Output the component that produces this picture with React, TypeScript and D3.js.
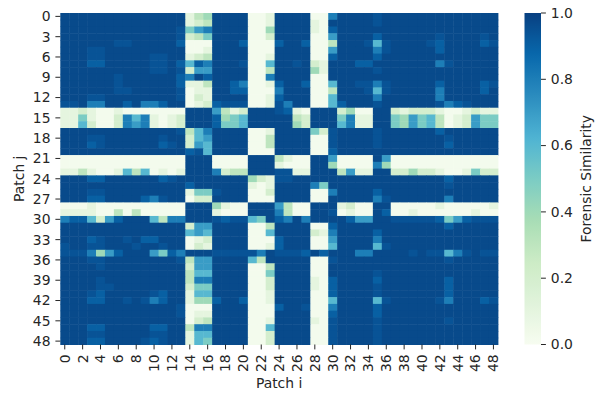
import React from "react";
import * as d3 from "d3";

// Heatmap rows (Patch j = 0..48), one character per column (Patch i = 0..48).
// Characters encode the similarity level (see LEVEL).
const ROWS_RAW: string[] = [
  "BBBBBBBBBBBBBB 134 BBBB 001 BBBB 008 BBBB AB BBBBBBBBBBBB",
  "BBBBBBBBBBBBBB 123 BBBB 001 BBBB 10B BBBB AB BBBBBBBBBBBB",
  "BBBBBBBBBBBBBA 578 BBBB 004 BBBB 109 BBBB BB BBBBBBBBBBBB",
  "BBBBBBBBBBBBBA 235 BBBB 002 BBBB 007 BBBB 9B BBBBBABBBBAB",
  "BBBBBBAABBBBB9 000 BBB9 000 9BB9 003 BBBA 6A BBBBA9BBBB9A",
  "BBBAABBBBBBBBB 001 BBBB 000 BBBB 007 BBBB 8A BBBBB9BBBBBB",
  "BBBAABBBBBAABB 123 BBBB 001 BBBB 009 BBBB 9B BBBBBBBBBBBB",
  "BBB99BBBBBAAB9 698 BBBA 006 BBAB 21B BB99 BB BBBBB8ABBBBB",
  "BBBBBBBBBBAABA 277 BBBB 003 BBBB 41B BBBB AB BBBBBBBBBBBB",
  "BBBBBBABBBBBB9 8B9 BBBB 008 BBBB 00B BBBB BB BBBBBBBBBBBB",
  "BBBBBBABBBBBB9 113 BB98 001 9BB9 006 BBAA 8A BBBBB9BBBB9A",
  "BBBBBBAABBBBBA 011 BB99 000 8BBB 003 BBBA 6A BBBBB8BBBB9B",
  "BBBAABBBBBBBBA 021 BBBB 001 9BBB 006 BBBB 8B BBBBB8BBBBBB",
  "AAB88BB9B889BB 012 9AAA 001 A8BB 006 9BBB AB BBBBBA89ABBB",
  "11210010000000 BBB 7312 BBB A910 BBB 2400 BB 212221001211",
  "11510028681012 BBB 9456 BBB BB32 BBB 5811 BB 547563012755",
  "11620028781012 BBB 9556 BBB BB42 BBB 6811 BB 547563012755",
  "BBBBBBBBBBBBBA 368 BBBB 001 BBBB 52A BBBB AB BBBBB9BBBBBB",
  "BBBAABBBBBBABB 267 BBBB 003 BBBB 00A BBBB AB BBBBBBABBBBB",
  "BBB9ABBBBBB9AB 276 BBBB 003 BBBB 00A BBBB AB BBBBBB9BBBBB",
  "BBBBBBBBBBBBBB 9A6 BBBB 000 BBBB 009 BBBB BB BBBBBBBBBBBB",
  "00000000000000 BBB 0000 BBB 3100 BB7 0000 B7 000000000000",
  "00000000000000 BBB 0000 BBB 1000 BB4 0000 84 000000000000",
  "11310016360101 BBB 8233 BBB AA11 BBB 3711 BB 224221001522",
  "BBB99BBBBBB9AB BBB BBBB 421 AABB BBB BBBB BB BBBBBB9BBBBB",
  "BBBBBBBBBBBBBB 9BB BBBB 101 BBBB 85B BBBB BB BBBBBBABBBBB",
  "BBBAABBBBBBBBB 155 ABBB 002 BBBB 008 BBBB 9B BBBBBBBBBBBB",
  "BBB99BBBB98ABB 022 BBBB 000 BBBB 00B BBBB 8A BBBBBB8BBBBB",
  "00010000000000 BBB 4100 BBB 7300 BBB 1200 BB 000001000001",
  "11110030300000 BBB 1000 BBB 8300 BBA 0100 B9 001000000100",
  "8996279BBB6388 BBB A9AA 65B 98B8 BBB B977 BB AAAAA9579AAA",
  "BBBBBBBBBBBBBB 277 BBBB 003 BBBB 009 BBBB BB BBBBBB9BBBBB",
  "BBBBBBBBBBBBBB 676 BBBB 006 BBBB 218 BBBB 9B BBBBBBBBBBBB",
  "BBB9ABBAB99BBB 012 BBBB 000 9BBB 007 BBBB 8B BBBBBBBBBBBB",
  "ABBAABBBABBABB 021 BBBB 001 9BBB 006 BBBB 6A BBBBBBBBBBBB",
  "AAA8479BBB7598 BBB AAAA A8B AAA9 B9B BB88 BB BBABAA68ABAA",
  "BBBAABBBBBBBBA 377 BBBB 63B BBBB 00A BBBB BB BBBBBBABBBBB",
  "BBBBABBBBBBBBB 277 BBBB 003 BBBB 00B BBBB BB BBBBBBBBBBBB",
  "BBBBBBBBBBBBBB 366 BBBB 005 BBBB 00B BBBB AB BBBBBBBBBBBB",
  "BBBBABBBBBBBBB 388 BBBB 002 BBBB 109 BBBB 9B BBBBBB9BBBBB",
  "BBBBAABBBBBBBB 255 BBBB 002 BBBB 109 BBBB AB BBBBBB9BBBBB",
  "BBBA9BBBBBA9BB 166 BBBB 001 BBBB 009 BBBB AB BBBBBB9BBBBB",
  "BBB99BBABA89BB 144 9BB9 001 BBBB 006 BBBB 6A BBBBBA8BBB9A",
  "BBBBBBBBBBBBBA 000 BBBB 000 9BBA 008 BBBB 9B BBBBBBBBBBBB",
  "BBBBBBBBBBBBBA 011 BBBB 000 BBBB 009 BBBB 9B BBBBBBBBBBBB",
  "BBBBBBBBBBBBBB 023 BBBB 001 BBBB 10A BBBB AB BBBBBBABBBBB",
  "BBB99BBBBB99BB 388 BBBB 006 BBBB 00A BBBB AB BBBBBBBBBBBB",
  "BBBAABBBBBAABB 166 BBBB 002 BBBB 00A BBBB AB BBBBBBBBBBBB",
  "BBB99BBBBA9ABB 165 BBBB 002 BBBB 00A BBBB AB BBBBBBBBBBBB",
];

// Similarity value for each level character
const LEVEL: Record<string, number> = {
  "0": 0.02, "1": 0.1, "2": 0.2, "3": 0.3, "4": 0.4, "5": 0.5,
  "6": 0.6, "7": 0.7, "8": 0.8, "9": 0.9, A: 0.94, B: 0.97,
};

const PATCH_I: number[] = [
  0, 1, 2, 3, 4, 5, 6, 7, 8, 9, 10, 11, 12, 13, 14, 15, 16, 17, 18, 19, 20, 21, 22, 23, 24,
  25, 26, 27, 28, 29, 30, 31, 32, 33, 34, 35, 36, 37, 38, 39, 40, 41, 42, 43, 44, 45, 46, 47, 48,
];
const PATCH_J: number[] = PATCH_I.slice();
const X_TICKS: number[] = [0, 2, 4, 6, 8, 10, 12, 14, 16, 18, 20, 22, 24, 26, 28, 30, 32, 34, 36, 38, 40, 42, 44, 46, 48];
const Y_TICKS: number[] = [0, 3, 6, 9, 12, 15, 18, 21, 24, 27, 30, 33, 36, 39, 42, 45, 48];
const CBAR_TICKS: number[] = [0, 0.2, 0.4, 0.6, 0.8, 1.0];
const GNBU: string[] = ["#f7fcf0", "#e0f3db", "#ccebc5", "#a8ddb5", "#7bccc4", "#4eb3d3", "#2b8cbe", "#0868ac", "#084081"];

const W = 597;
const H = 394;
const LEFT = 60.3;
const RIGHT = 497.9;
const TOP = 13;
const BOTTOM = 344.5;
const CB_X0 = 524.5;
const CB_X1 = 541;
const FONT = "'DejaVu Sans', sans-serif";
const FS = 13.9;
const TXT = "#262626";
const TICK = 4.9;

export default function App() {
  const x = d3.scaleBand<number>().domain(PATCH_I).range([LEFT, RIGHT]);
  const y = d3.scaleBand<number>().domain(PATCH_J).range([TOP, BOTTOM]);
  const color = d3
    .scaleLinear<string>()
    .domain(GNBU.map((_, i) => i / (GNBU.length - 1)))
    .range(GNBU)
    .interpolate(d3.interpolateRgb)
    .clamp(true);
  const cb = d3.scaleLinear().domain([0, 1]).range([BOTTOM, TOP]);

  const matrix: number[][] = ROWS_RAW.map((r) => {
    const s = r.replace(/\s+/g, "");
    return PATCH_I.map((i) => LEVEL[s[i]] ?? 0.97);
  });

  const cells: React.ReactNode[] = [];
  matrix.forEach((row, j) => {
    row.forEach((v, i) => {
      cells.push(
        <rect
          key={`${j}-${i}`}
          x={x(i)!}
          y={y(j)!}
          width={x.bandwidth() + 0.5}
          height={y.bandwidth() + 0.5}
          fill={color(v)}
        />
      );
    });
  });

  const stops = d3.range(0, 1.0001, 0.02);

  return (
    <svg
      width={W}
      height={H}
      style={{ position: "absolute", left: 0, top: 0, background: "#fff" }}
      fontFamily={FONT}
    >
      <defs>
        <linearGradient id="cbgrad" x1="0" y1="1" x2="0" y2="0">
          {stops.map((t) => (
            <stop key={t} offset={t} stopColor={color(t)} />
          ))}
        </linearGradient>
      </defs>
      <rect x={0} y={0} width={W} height={H} fill="#fff" />
      <g>{cells}</g>

      {/* Y axis */}
      <g>
        {Y_TICKS.map((t) => {
          const cy = y(t)! + y.bandwidth() / 2;
          return (
            <g key={t}>
              <line x1={LEFT - TICK} x2={LEFT} y1={cy} y2={cy} stroke={TXT} strokeWidth={1} />
              <text
                x={LEFT - TICK - 4.9}
                y={cy}
                dy="0.35em"
                textAnchor="end"
                fontSize={FS}
                fill={TXT}
              >
                {t}
              </text>
            </g>
          );
        })}
        <text
          transform={`translate(23.5, ${(TOP + BOTTOM) / 2}) rotate(-90)`}
          textAnchor="middle"
          fontSize={FS}
          fill={TXT}
        >
          Patch j
        </text>
      </g>

      {/* X axis */}
      <g>
        {X_TICKS.map((t) => {
          const cx = x(t)! + x.bandwidth() / 2;
          return (
            <g key={t}>
              <line x1={cx} x2={cx} y1={BOTTOM} y2={BOTTOM + TICK} stroke={TXT} strokeWidth={1} />
              <text
                transform={`translate(${cx}, ${BOTTOM + TICK + 4.9}) rotate(-90)`}
                dy="0.35em"
                textAnchor="end"
                fontSize={FS}
                fill={TXT}
              >
                {t}
              </text>
            </g>
          );
        })}
        <text x={(LEFT + RIGHT) / 2} y={388} textAnchor="middle" fontSize={FS} fill={TXT}>
          Patch i
        </text>
      </g>

      {/* Colorbar */}
      <g>
        <rect x={CB_X0} y={TOP} width={CB_X1 - CB_X0} height={BOTTOM - TOP} fill="url(#cbgrad)" />
        {CBAR_TICKS.map((t) => (
          <g key={t}>
            <line x1={CB_X1} x2={CB_X1 + TICK} y1={cb(t)} y2={cb(t)} stroke={TXT} strokeWidth={1} />
            <text x={CB_X1 + TICK + 4.9} y={cb(t)} dy="0.35em" fontSize={FS} fill={TXT}>
              {t.toFixed(1)}
            </text>
          </g>
        ))}
        <text
          transform={`translate(591, ${(TOP + BOTTOM) / 2}) rotate(-90)`}
          textAnchor="middle"
          fontSize={FS}
          fill={TXT}
        >
          Forensic Similarity
        </text>
      </g>
    </svg>
  );
}
